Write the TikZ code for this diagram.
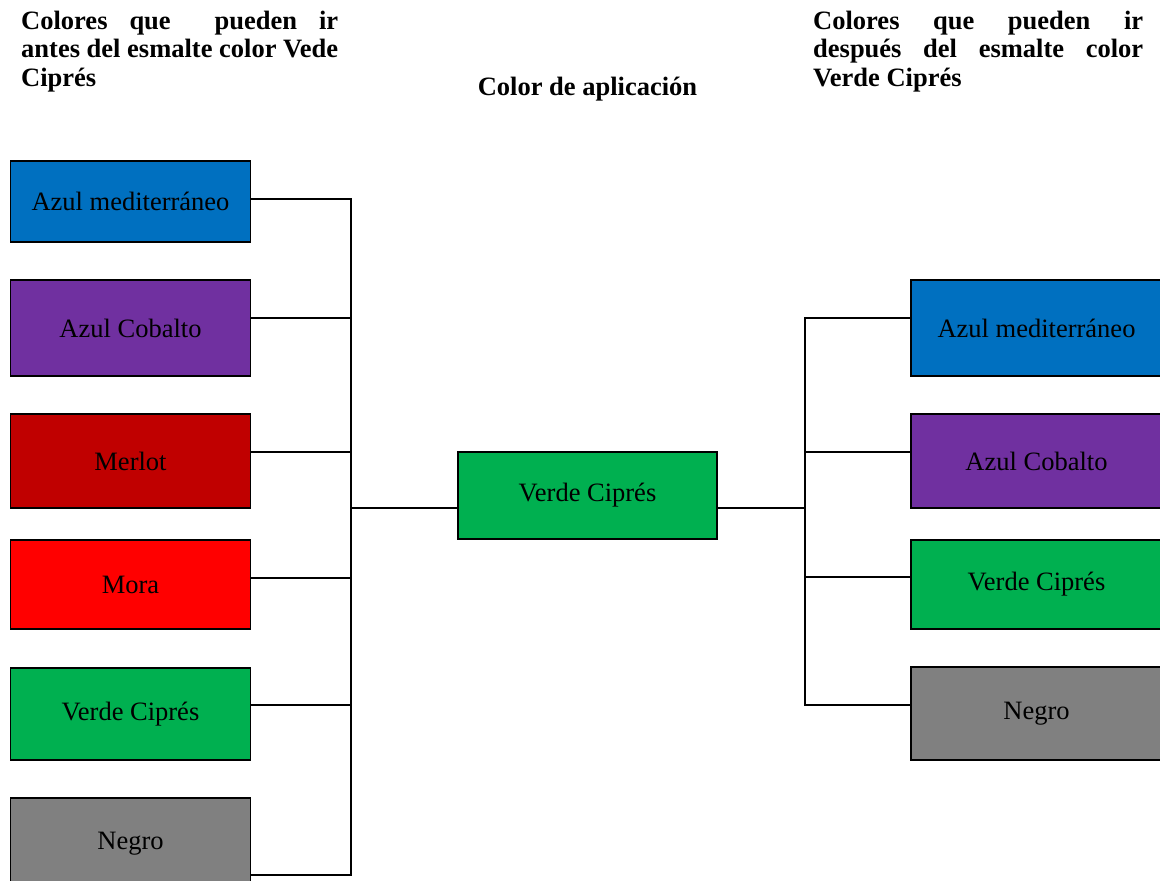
\documentclass[tikz,border=0pt]{standalone}
\usepackage{fontspec}
\setmainfont{Liberation Serif}
\definecolor{azulmed}{HTML}{0070C0}
\definecolor{cobalto}{HTML}{7030A0}
\definecolor{merlot}{HTML}{C00000}
\definecolor{mora}{HTML}{FF0000}
\definecolor{verde}{HTML}{00B050}
\definecolor{negro}{HTML}{808080}
\tikzset{
  colorbox/.style={draw=black, line width=1.6pt, inner sep=0pt, align=center,
    font=\fontsize{26.5}{28.5}\selectfont, text=black},
  leftbox/.style={colorbox, minimum width=240pt},
  rightbox/.style={colorbox, minimum width=251pt},
  link/.style={draw=black, line width=1.2pt},
  heading/.style={inner sep=0pt, font=\fontsize{26.5}{28.5}\selectfont\bfseries}
}
\begin{document}
\begin{tikzpicture}[x=1pt, y=-1pt]
\useasboundingbox (0,0) rectangle (1160,881);
\clip (0,0) rectangle (1160,881);

% headings
\node[heading, anchor=base west] (hleft) at (21,29)
  {\parbox[t]{317pt}{\baselineskip=28.5pt
   \makebox[317pt][s]{Colores que\ \ pueden ir}\\
   \makebox[317pt][s]{antes del esmalte color Vede}\\
   Ciprés}};
\node[heading, anchor=base] (hmid) at (587.5,95) {Color de aplicación};
\node[heading, anchor=base west] (hright) at (813,29)
  {\parbox[t]{330pt}{\baselineskip=28.5pt
   \makebox[330pt][s]{Colores que pueden ir}\\
   \makebox[330pt][s]{después del esmalte color}\\
   Verde Ciprés}};

% colours that may go before
\node[leftbox, fill=azulmed, minimum height=81pt] (LA) at (130.5,201.5) {Azul mediterráneo};
\node[leftbox, fill=cobalto, minimum height=96pt] (LB) at (130.5,328) {Azul Cobalto};
\node[leftbox, fill=merlot,  minimum height=94pt] (LC) at (130.5,461) {Merlot};
\node[leftbox, fill=mora,    minimum height=89pt] (LD) at (130.5,584.5) {Mora};
\node[leftbox, fill=verde,   minimum height=92pt] (LE) at (130.5,714) {Verde Ciprés};
\node[leftbox, fill=negro,   minimum height=92pt] (LF) at (130.5,844) {Negro};

% application colour
\node[colorbox, fill=verde, minimum width=259pt, minimum height=87pt] (C) at (587.5,495.5) {Verde Ciprés};

% colours that may go after
\node[rightbox, fill=azulmed, minimum height=96pt] (RA) at (1036.5,328) {Azul mediterráneo};
\node[rightbox, fill=cobalto, minimum height=94pt] (RB) at (1036.5,461) {Azul Cobalto};
\node[rightbox, fill=verde,   minimum height=89pt] (RC) at (1036.5,584.5) {Verde Ciprés};
\node[rightbox, fill=negro,   minimum height=93pt] (RD) at (1036.5,713.5) {Negro};

% junctions of the two trunks
\coordinate (jl) at (351,508);
\coordinate (jr) at (805,508);

% left tree
\draw[link] ([yshift=2.5pt]LA.east) -| (jl);
\draw[link] ([yshift=10pt]LB.east) -| (jl);
\draw[link] ([yshift=9pt]LC.east) -| (jl);
\draw[link] ([yshift=6.5pt]LD.east) -| (jl);
\draw[link] ([yshift=9pt]LE.east) -| (jl);
\draw[link] ([yshift=-31pt]LF.east) -| (jl);
\draw[link] (jl) -- ([yshift=-12.5pt]C.west);

% right tree
\draw[link] ([yshift=-12.5pt]C.east) -- (jr);
\draw[link] (jr) |- ([yshift=10pt]RA.west);
\draw[link] (jr) |- ([yshift=9pt]RB.west);
\draw[link] (jr) |- ([yshift=7.5pt]RC.west);
\draw[link] (jr) |- ([yshift=8.5pt]RD.west);
\end{tikzpicture}
\end{document}
